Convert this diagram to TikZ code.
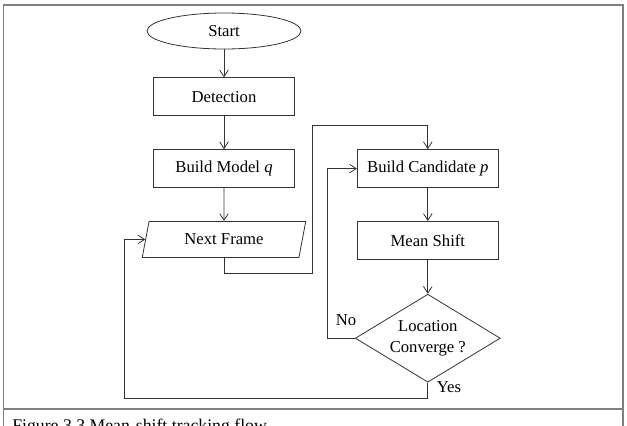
\documentclass[tikz,border=0pt]{standalone}
\usepackage{fontspec}
\setmainfont{Liberation Serif}
\usepackage{tikz}
\usetikzlibrary{shapes.geometric, arrows.meta, positioning}

\begin{document}
\begin{tikzpicture}[
    x=0.75pt, y=-0.75pt,
    node distance=24.75pt,
    term/.style={draw=black!80, ellipse, line width=0.6pt, minimum width=115.5pt, minimum height=27pt, inner sep=0pt, font=\fontsize{12.5}{14}\selectfont},
    box/.style={draw=black!80, line width=0.6pt, minimum width=105.75pt, minimum height=28.5pt, inner sep=0pt, align=center, font=\fontsize{12.5}{14}\selectfont},
    io/.style={draw=black!80, trapezium, trapezium left angle=72, trapezium right angle=108, trapezium stretches=true, line width=0.6pt, minimum width=123pt, minimum height=27pt, inner sep=0pt, font=\fontsize{12.5}{14}\selectfont},
    dec/.style={draw=black!80, diamond, aspect=1.65, line width=0.6pt, minimum width=108.75pt, minimum height=66pt, inner sep=0pt, align=center, font=\fontsize{12.5}{16}\selectfont},
    lbl/.style={inner sep=0pt, font=\fontsize{12.5}{14}\selectfont},
    arr/.style={-{Straight Barb[length=5pt,width=6.5pt]}, black!80, line width=0.6pt},
    frameline/.style={draw=black!50, line width=0.8pt}
]
\useasboundingbox (0,0) rectangle (627,425);
\clip (0,0) rectangle (627,425);

% outer frame and caption
\draw[frameline] (3.5,5) rectangle (623,440);
\draw[frameline] (3.5,409) -- (623,409);
\node[anchor=base west, inner sep=0pt, font=\fontsize{13.3}{16}\selectfont] (cap) at (12,431) {Figure 3.3 Mean-shift tracking flow};

\node[term] (start) at (224,31) {Start};
\node[box, below=21pt of start] (det) {Detection};
\node[box, below=of det] (model) {Build Model \textit{q}};
\node[io, below=of model] (frame) {Next Frame};
\node[box, right=46.5pt of model] (cand) {Build Candidate \textit{p}};
\node[box, below=of cand] (shift) {Mean Shift};
\node[dec, below=25.5pt of shift] (conv) {Location\\Converge ?};

\draw[arr] (start) -- (det);
\draw[arr] (det) -- (model);
\draw[arr] (model) -- (frame);
\draw[arr] (frame.south) -- ++(0,16) -| (312,125) -| (cand.north);
\draw[arr] (cand) -- (shift);
\draw[arr] (shift) -- (conv);

% loops back
\draw[arr] (conv.west) -- ++(-28,0) |- (cand.west);
\draw[arr] (conv.south) -- ++(0,16) -| ([xshift=-15.4pt]frame.west) -- (frame.west);

\node[lbl] (no) at (346,320) {No};
\node[lbl] (yes) at (449,387.5) {Yes};

\end{tikzpicture}
\end{document}
